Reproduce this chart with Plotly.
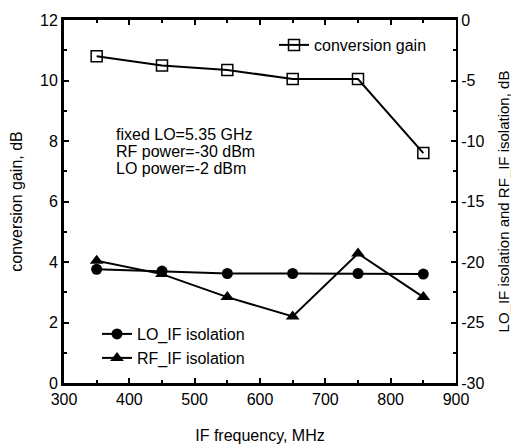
import plotly.graph_objects as go

freq = [350, 450, 550, 650, 750, 850]
conv_gain = [10.8, 10.5, 10.35, 10.05, 10.05, 7.6]
lo_if_iso = [-20.6, -20.75, -20.95, -20.95, -20.95, -21.0]
rf_if_iso = [-19.9, -21.0, -22.9, -24.5, -19.3, -22.9]

x_ticks = [300, 400, 500, 600, 700, 800, 900]
y_ticks = [0, 2, 4, 6, 8, 10, 12]
y2_ticks = [-30, -25, -20, -15, -10, -5, 0]
y2_labels = ["-30", "-25", "-20", "-15", "-10", "-5", "0"]
notes = ["fixed LO=5.35 GHz", "RF power=-30 dBm", "LO power=-2 dBm"]

FONT = "Liberation Sans, Arial, sans-serif"
# page body has an 8px default margin; compensate so the window matches the reference
OFF = 8
L, R, T, B = 64 - OFF, 63, 20 - OFF, 61
W, H = 519 - OFF, 444 - OFF
PW, PH = W - L - R, H - T - B


def px(xw):
    return (xw - OFF - L) / PW


def py(yw):
    return 1 - (yw - OFF - T) / PH


fig = go.Figure()
fig.add_trace(go.Scatter(
    x=freq, y=conv_gain, name="conversion gain", mode="lines+markers",
    line=dict(color="black", width=2),
    marker=dict(symbol="square-open", size=11, color="black", line=dict(width=1.5)),
    legend="legend", yaxis="y"))
fig.add_trace(go.Scatter(
    x=freq, y=lo_if_iso, name="LO_IF isolation", mode="lines+markers",
    line=dict(color="black", width=2),
    marker=dict(symbol="circle", size=11, color="black"),
    legend="legend2", yaxis="y2"))
fig.add_trace(go.Scatter(
    x=freq, y=rf_if_iso, name="RF_IF isolation", mode="lines+markers",
    line=dict(color="black", width=2),
    marker=dict(symbol="triangle-up", size=12, color="black"),
    legend="legend3", yaxis="y2"))

for i, t in enumerate(notes):
    fig.add_annotation(
        xref="paper", yref="paper", x=px(114), y=py(134 + 17 * i),
        xanchor="left", yanchor="middle", text=t, showarrow=False,
        font=dict(family=FONT, size=16, color="black"))

legend_common = dict(font=dict(family=FONT, size=16, color="black"),
                     bgcolor="rgba(0,0,0,0)", borderwidth=0,
                     xanchor="left", yanchor="middle")

fig.update_layout(
    width=W, height=H,
    margin=dict(l=L, r=R, t=T, b=B, autoexpand=False),
    showlegend=True,
    paper_bgcolor="white", plot_bgcolor="white",
    font=dict(family=FONT, size=16, color="black"),
    legend=dict(x=px(274), y=py(45), **legend_common),
    legend2=dict(x=px(97), y=py(334), **legend_common),
    legend3=dict(x=px(97), y=py(358), **legend_common),
    xaxis=dict(range=[300, 900], tickvals=x_ticks, ticks="inside", ticklen=5,
               tickwidth=2, tickcolor="black", automargin=False,
               minor=dict(dtick=50, ticks="inside", ticklen=3, tickwidth=2, tickcolor="black"),
               showline=True, linewidth=3, linecolor="black", mirror="ticks",
               showgrid=False, zeroline=False,
               title=dict(text="IF frequency, MHz", standoff=26,
                          font=dict(family=FONT, size=16)),
               tickfont=dict(family=FONT, size=16)),
    yaxis=dict(range=[0, 12], tickvals=y_ticks, ticks="inside", ticklen=5,
               tickwidth=2, tickcolor="black", automargin=False,
               minor=dict(dtick=1, ticks="inside", ticklen=3, tickwidth=2, tickcolor="black"),
               showline=True, linewidth=3, linecolor="black",
               showgrid=False, zeroline=False,
               title=dict(text="conversion gain, dB", standoff=14,
                          font=dict(family=FONT, size=16)),
               tickfont=dict(family=FONT, size=16)),
    yaxis2=dict(range=[-30, 0], tickvals=y2_ticks, ticktext=y2_labels,
                ticks="inside", ticklen=5, automargin=False,
                tickwidth=2, tickcolor="black", overlaying="y", side="right",
                minor=dict(dtick=2.5, ticks="inside", ticklen=3, tickwidth=2, tickcolor="black"),
                showline=True, linewidth=2, linecolor="black",
                showgrid=False, zeroline=False,
                title=dict(text="LO_IF isolation and RF_IF isolation, dB", standoff=15,
                           font=dict(family=FONT, size=15)),
                tickfont=dict(family=FONT, size=16)),
)

fig.write_html("out.html")
